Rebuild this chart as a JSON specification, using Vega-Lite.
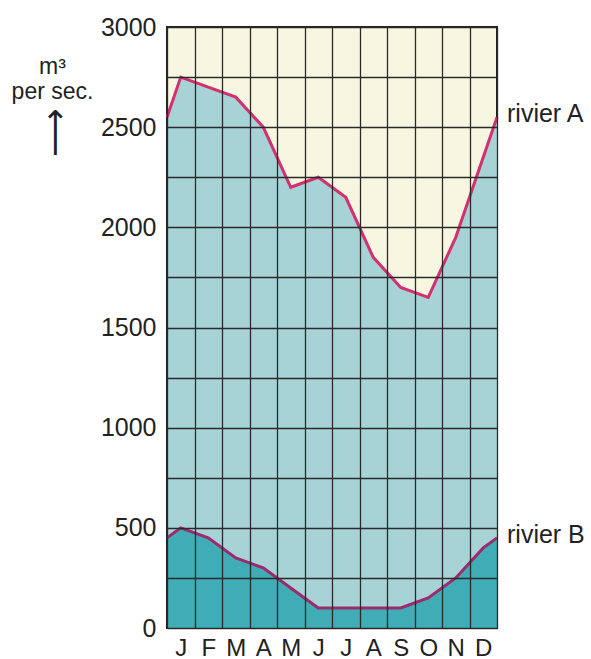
{
  "$schema": "https://vega.github.io/schema/vega-lite/v6.json",
  "autosize": "none",
  "width": 330,
  "height": 601,
  "padding": {"left": 167, "top": 27, "right": 94, "bottom": 31},
  "background": "#ffffff",
  "config": {
    "view": {"fill": "#f7f7e1", "stroke": "#222222", "strokeWidth": 2},
    "font": "Liberation Sans"
  },
  "datasets": {
    "flow": [
      {"x": 0, "A": 2550, "B": 450},
      {"x": 0.5, "A": 2750, "B": 500},
      {"x": 1.5, "A": 2700, "B": 450},
      {"x": 2.5, "A": 2650, "B": 350},
      {"x": 3.5, "A": 2500, "B": 300},
      {"x": 4.5, "A": 2200, "B": 200},
      {"x": 5.5, "A": 2250, "B": 100},
      {"x": 6.5, "A": 2150, "B": 100},
      {"x": 7.5, "A": 1850, "B": 100},
      {"x": 8.5, "A": 1700, "B": 100},
      {"x": 9.5, "A": 1650, "B": 150},
      {"x": 10.5, "A": 1950, "B": 250},
      {"x": 11.5, "A": 2350, "B": 400},
      {"x": 12, "A": 2550, "B": 450}
    ],
    "labels": [
      {"x": 12, "y": 2550, "label": "rivier A"},
      {"x": 12, "y": 450, "label": "rivier B"}
    ]
  },
  "data": {"name": "flow"},
  "layer": [
    {
      "mark": {"type": "area", "color": "#a7d3d6", "opacity": 1},
      "encoding": {
        "x": {
          "field": "x", "type": "quantitative",
          "scale": {"domain": [0, 12], "nice": false, "zero": false},
          "axis": {
            "values": [0, 1, 2, 3, 4, 5, 6, 7, 8, 9, 10, 11, 12],
            "tickCount": 40,
            "labelExpr": "datum.value < 12 ? ['J','F','M','A','M','J','J','A','S','O','N','D'][datum.value] : ''",
            "labelOffset": 13.75,
            "grid": true,
            "gridColor": "#2a2a2a",
            "gridWidth": 1.3,
            "zindex": 1,
            "ticks": false,
            "domain": false,
            "labelFontSize": 24,
            "labelColor": "#222222",
            "labelPadding": 8,
            "labelFlush": false,
            "labelOverlap": false,
            "title": "⟶",
            "titleAngle": 270,
            "titleFontSize": 34,
            "titleFontWeight": "normal",
            "titleFont": "DejaVu Sans",
            "titleColor": "#222222",
            "titleAnchor": "middle",
            "titleAlign": "center",
            "titleBaseline": "middle",
            "titleX": -112,
            "titleY": -496
          }
        },
        "y": {
          "field": "A", "type": "quantitative",
          "scale": {"domain": [0, 3000], "nice": false},
          "axis": {
            "values": [0, 250, 500, 750, 1000, 1250, 1500, 1750, 2000, 2250, 2500, 2750, 3000],
            "tickCount": 40,
            "labelExpr": "datum.value % 500 == 0 ? datum.label : ''",
            "format": "d",
            "grid": true,
            "gridColor": "#2a2a2a",
            "gridWidth": 1.3,
            "zindex": 1,
            "ticks": false,
            "domain": false,
            "labelFontSize": 25,
            "labelColor": "#222222",
            "labelPadding": 11,
            "labelFlush": false,
            "labelOverlap": false,
            "title": ["m³", "per sec."],
            "titleAngle": 0,
            "titleFontSize": 23,
            "titleFontWeight": "normal",
            "titleColor": "#222222",
            "titleAlign": "center",
            "titleBaseline": "alphabetic",
            "titleLineHeight": 25,
            "titleX": -115,
            "titleY": 46
          }
        }
      }
    },
    {
      "mark": {"type": "area", "color": "#40adb6", "opacity": 1},
      "encoding": {
        "x": {"field": "x", "type": "quantitative"},
        "y": {"field": "B", "type": "quantitative"}
      }
    },
    {
      "mark": {"type": "line", "color": "#d3306f", "strokeWidth": 3},
      "encoding": {
        "x": {"field": "x", "type": "quantitative"},
        "y": {"field": "A", "type": "quantitative"}
      }
    },
    {
      "mark": {"type": "line", "color": "#9e2a6e", "strokeWidth": 3},
      "encoding": {
        "x": {"field": "x", "type": "quantitative"},
        "y": {"field": "B", "type": "quantitative"}
      }
    },
    {
      "data": {"name": "labels"},
      "mark": {"type": "text", "align": "left", "baseline": "middle", "dx": 10, "dy": -3, "fontSize": 25, "color": "#222222", "font": "Liberation Sans"},
      "encoding": {
        "x": {"field": "x", "type": "quantitative"},
        "y": {"field": "y", "type": "quantitative"},
        "text": {"field": "label"}
      }
    }
  ]
}
